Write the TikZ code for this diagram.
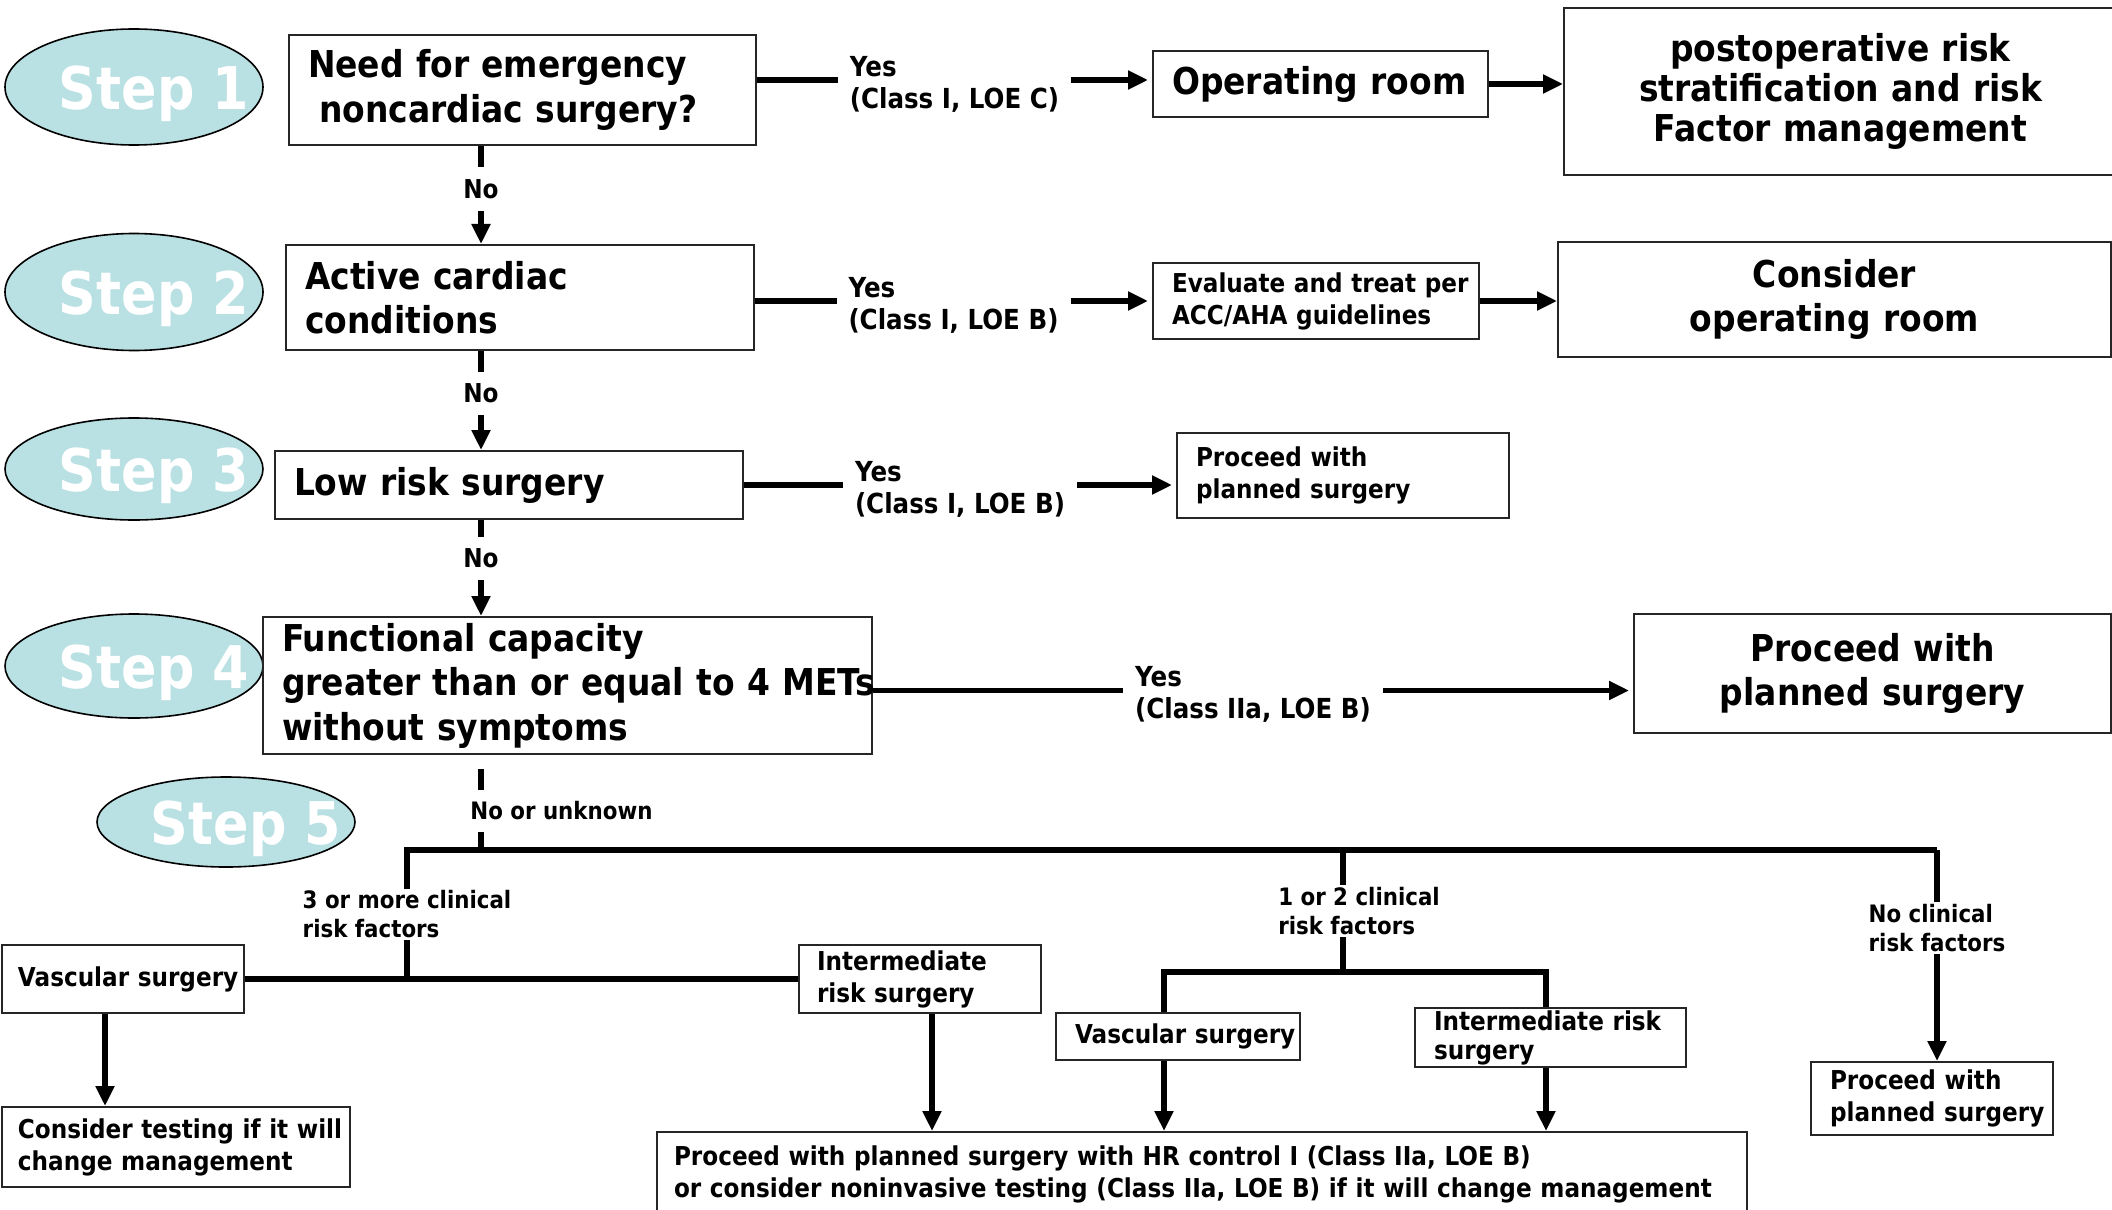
\documentclass[tikz,border=0pt]{standalone}
\usepackage{fontspec}
\setmainfont{DejaVu Sans}[FakeStretch=0.89]
\usetikzlibrary{shapes,positioning,arrows.meta}

\definecolor{stepfill}{HTML}{B9E0E3}
\newcommand{\stepfont}{\fontsize{29.4}{34}\selectfont\bfseries}
\newcommand{\boxfont}{\fontsize{18.5}{22.25}\selectfont\bfseries}
\newcommand{\postfont}{\fontsize{18.5}{20}\selectfont\bfseries}
\newcommand{\yesfont}{\fontsize{13.8}{16}\selectfont\bfseries}
\newcommand{\minifont}{\fontsize{13}{16}\selectfont\bfseries}
\newcommand{\tightfont}{\fontsize{13}{14.5}\selectfont\bfseries}
\newcommand{\riskfont}{\fontsize{12}{14.5}\selectfont\bfseries}

\begin{document}
\begin{tikzpicture}[x=0.5pt,y=-0.5pt,>={Triangle[length=10pt,width=9pt]},
	stepell/.style={ellipse,draw,line width=0.8pt,fill=stepfill,minimum width=129pt,inner sep=0pt},
	steptxt/.style={text=white,font=\stepfont,xshift=10pt,yshift=-3.5pt},
	box/.style={draw=black!85,line width=1pt,anchor=north west,inner xsep=9.5pt,inner ysep=1pt,align=left},
	cbox/.style={box,align=center},
	conn/.style={line width=2.75pt},
	nolbl/.style={font=\minifont,fill=white,inner sep=6pt,align=left},
	yeslbl/.style={nolbl,font=\yesfont,yshift=-2pt},
	risklbl/.style={font=\riskfont,fill=white,inner xsep=1pt,inner ysep=1pt,align=left}]
		
		\useasboundingbox (0,0) rectangle (2112,1209);
		
		% step markers
		\node[stepell,minimum height=58pt,label={[steptxt]center:Step 1}] (step1) at (134,87) {};
		\node[stepell,minimum height=58.5pt,label={[steptxt]center:Step 2}] (step2) at (134,292) {};
		\node[stepell,minimum height=51pt,label={[steptxt]center:Step 3}] (step3) at (134,469) {};
		\node[stepell,minimum height=52pt,label={[steptxt]center:Step 4}] (step4) at (134,666) {};
		\node[stepell,minimum height=45pt,label={[steptxt]center:Step 5}] (step5) at (226,822) {};
		
		% questions and outcomes
		\node[box,font=\boxfont,text width=214.5pt,minimum height=55pt] (need) at (288,34) {Need for emergency\\\hspace*{5.5pt}noncardiac surgery?};
		\node[box,font=\boxfont,text width=148.5pt,minimum height=33pt] (opRoom) at (1152,50) {Operating room};
		\node[cbox,font=\postfont,text width=257.5pt,minimum height=83.5pt] (postop) at (1563,7) {postoperative risk\\stratification and risk\\Factor management};
		\node[box,font=\boxfont,text width=215pt,minimum height=52.5pt] (active) at (285,244) {Active cardiac\\conditions};
		\node[box,font=\minifont,text width=144pt,minimum height=38pt] (evalTreat) at (1152,262) {\mbox{Evaluate and treat per}\\ACC/AHA guidelines};
		\node[cbox,font=\boxfont,text width=257.5pt,minimum height=57.5pt] (considerOR) at (1557,241) {Consider\\operating room};
		\node[box,font=\boxfont,text width=215pt,minimum height=34pt] (lowRisk) at (274,450) {Low risk surgery};
		\node[box,font=\minifont,text width=147pt,minimum height=42.5pt] (proceedA) at (1176,432) {Proceed with\\planned surgery};
		\node[box,font=\boxfont,text width=285.5pt,minimum height=68.5pt] (functional) at (262,616) {Functional capacity\\\mbox{greater than or equal to 4 METs}\\without symptoms};
		\node[cbox,font=\boxfont,text width=219.5pt,minimum height=59.5pt] (proceedB) at (1633,613) {Proceed with\\planned surgery};
		
		% step 5 boxes
		\node[box,font=\minifont,inner xsep=8pt,text width=105pt,minimum height=34pt] (vascA) at (1,944) {\mbox{Vascular surgery}};
		\node[box,font=\minifont,inner xsep=9pt,text width=103pt,minimum height=34pt] (interA) at (798,944) {Intermediate\\risk surgery};
		\node[box,font=\minifont,inner xsep=8pt,text width=158pt,minimum height=40pt] (testing) at (1,1106) {\mbox{Consider testing if it will}\\change management};
		\node[box,font=\minifont,inner xsep=8.5pt,text width=528pt,minimum height=42pt] (hrControl) at (656,1131) {\mbox{Proceed with planned surgery with HR control I (Class IIa, LOE B)}\\\mbox{or consider noninvasive testing (Class IIa, LOE B) if it will change management}};
		\node[box,font=\minifont,text width=103pt,minimum height=23.5pt] (vascB) at (1055,1012) {\mbox{Vascular surgery}};
		\node[box,font=\tightfont,text width=116.5pt,minimum height=29.5pt] (interB) at (1414,1007) {\mbox{Intermediate risk}\\surgery};
		\node[box,font=\minifont,text width=102pt,minimum height=36.5pt] (proceedC) at (1810,1061) {Proceed with\\\mbox{planned surgery}};
		
		% yes branches
		\coordinate[yshift=2pt] (rowA) at (opRoom.west);
		\coordinate[yshift=-2.5pt] (rowD) at (functional.east);
		\draw[conn,->,shorten >=2pt] (need.east |- rowA) -- node[yeslbl] (yes1) {Yes\\(Class I, LOE C)} (rowA);
		\draw[conn,->] (opRoom.east) -- (opRoom.east -| postop.west);
		\draw[conn,->,shorten >=2pt] (active.east |- evalTreat.west) -- node[yeslbl] (yes2) {Yes\\(Class I, LOE B)} (evalTreat.west);
		\draw[conn,->] (evalTreat.east) -- (evalTreat.east -| considerOR.west);
		\draw[conn,->,shorten >=2pt] (lowRisk.east) -- node[yeslbl] (yes3) {Yes\\(Class I, LOE B)} (lowRisk.east -| proceedA.west);
		\draw[conn,->,shorten >=2pt] (rowD) -- node[yeslbl] (yes4) {Yes\\(Class IIa, LOE B)} (rowD -| proceedB.west);
		
		% no branches
		\coordinate (spine) at (481,0);
		\draw[conn,->] (need.south -| spine) -- node[nolbl,pos=0.44] (no1) {No} (spine |- active.north);
		\draw[conn,->] (active.south -| spine) -- node[nolbl,pos=0.43] (no2) {No} (spine |- lowRisk.north);
		\draw[conn,->] (lowRisk.south -| spine) -- node[nolbl,pos=0.4] (no3) {No} (spine |- functional.north);
		
		% step 5 tree
		\coordinate (busL) at (407,850);
		\coordinate (busM) at (1343,850);
		\coordinate (busR) at (1937,850);
		\coordinate (subL) at (1164,972);
		\coordinate (subR) at (1546,972);
		\coordinate (dropA) at (105,0);
		\coordinate (dropB) at (932,0);
		
		\draw[conn,shorten <=7pt] (functional.south -| spine) -- (spine |- busL);
		\node[nolbl,font=\riskfont,anchor=west] (noUnk) at (458,811) {No or unknown};
		\draw[conn] (busR) -- (busL) -- node[risklbl] (three) {3 or more clinical\\risk factors} (busL |- vascA.east);
		\draw[conn] (vascA.east) -- (interA.west);
		\draw[conn] (busM) -- node[risklbl,xshift=8pt] (oneTwo) {1 or 2 clinical\\risk factors} (busM |- subL);
		\draw[conn] (vascB.north -| subL) -- (subL) -- (subR) -- (interB.north -| subR);
		\draw[conn,->] (busR) -- node[risklbl,pos=0.37] (noRisk) {No clinical\\risk factors} (busR |- proceedC.north);
		
		\draw[conn,->] (vascA.south -| dropA) -- (dropA |- testing.north);
		\draw[conn,->] (interA.south -| dropB) -- (dropB |- hrControl.north);
		\draw[conn,->] (vascB.south -| subL) -- (subL |- hrControl.north);
		\draw[conn,->] (interB.south -| subR) -- (subR |- hrControl.north);
		
\end{tikzpicture}
\end{document}
